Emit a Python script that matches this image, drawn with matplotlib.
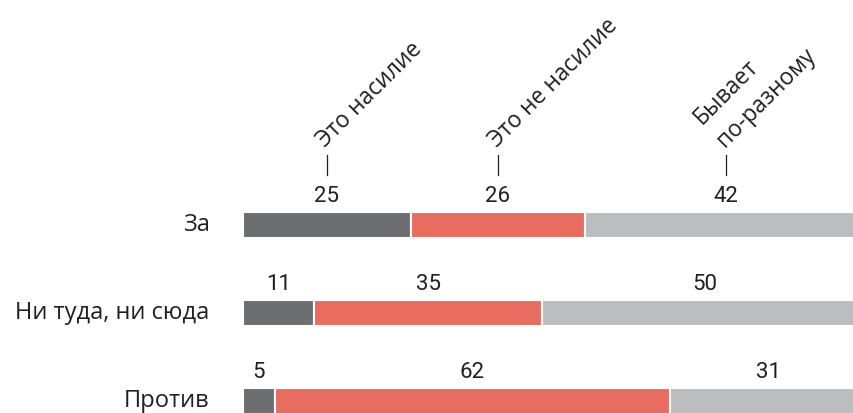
import matplotlib.pyplot as plt
import numpy as np

# data
rows = ["За", "Ни туда, ни сюда", "Против"]
answers = ["Это насилие", "Это не насилие", "Бывает\nпо-разному"]
violence = [25, 11, 5]
not_violence = [26, 35, 62]
depends = [42, 50, 31]

colors = ["#6d6e71", "#e86c60", "#bcbdc0"]
text_color = "#231f20"

# layout in pixels (figure is 854 x 413 at dpi 100)
fig_w, fig_h = 854, 413
bar_left = 243
bar_full = 624          # each row is scaled to 100 %, wider than the crop
first_row = 225
row_gap = 88
bar_px = 26

fig = plt.figure(figsize=(fig_w / 100, fig_h / 100), dpi=100)
ax = fig.add_axes([bar_left / fig_w, 0, bar_full / fig_w, 1])
ax.set_xlim(0, 100)
ax.set_ylim((fig_h - first_row) / row_gap, -first_row / row_gap)
ax.axis("off")

series = np.array([violence, not_violence, depends], dtype=float)
shares = series / series.sum(axis=0) * 100
y = np.arange(len(rows))
h = bar_px / row_gap

left = np.zeros(len(rows))
centers = []
for k in range(len(answers)):
    ax.barh(y, shares[k], left=left, height=h, color=colors[k],
            edgecolor="white", linewidth=1.5, clip_on=False)
    mid = left + shares[k] / 2
    centers.append(mid)
    for i in range(len(rows)):
        ax.text(mid[i], y[i] - 29 / row_gap, f"{series[k, i]:.0f}",
                ha="center", va="center", fontsize=16, family="Roboto",
                color=text_color)
    left = left + shares[k]

# row labels
for i, r in enumerate(rows):
    ax.annotate(r, xy=(0, y[i]), xytext=(-24, 0), textcoords="offset points",
                ha="right", va="center", fontsize=17, family="Open Sans",
                color=text_color)

# headers with small ticks over the first row
tick_top = y[0] - 70 / row_gap
tick_bot = y[0] - 50 / row_gap
for k, lab in enumerate(answers):
    cx = centers[k][0]
    ax.plot([cx, cx], [tick_top, tick_bot], color=text_color, lw=0.9,
            clip_on=False)
    ax.annotate(lab, xy=(cx, tick_top), xytext=(2, 2),
                textcoords="offset points", ha="left", va="bottom",
                rotation=45, rotation_mode="anchor", fontsize=16.5,
                family="Open Sans", color=text_color, linespacing=1.45,
                multialignment="left")

fig.savefig("out.png", dpi=100)
